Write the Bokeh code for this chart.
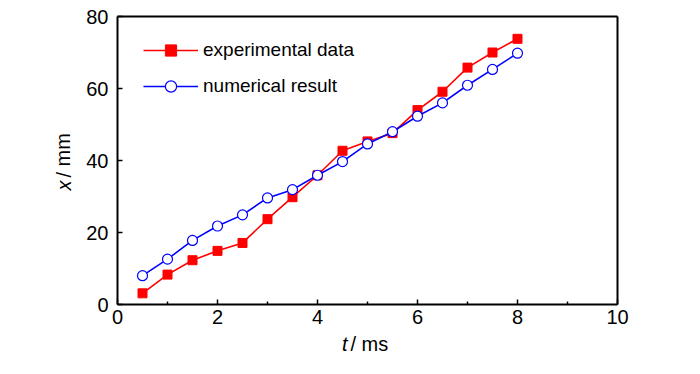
from bokeh.plotting import figure
from bokeh.models import Range1d, FixedTicker, Legend, LegendItem, Label, LinearAxis
from bokeh.embed import file_html
from bokeh.resources import INLINE

t = [0.5, 1.0, 1.5, 2.0, 2.5, 3.0, 3.5, 4.0, 4.5, 5.0, 5.5, 6.0, 6.5, 7.0, 7.5, 8.0]
experimental = [3.1, 8.3, 12.3, 14.9, 17.1, 23.7, 29.8, 35.9, 42.7, 45.3, 47.6, 54.0, 59.1, 65.8, 70.0, 73.8]
numerical = [8.0, 12.6, 17.8, 21.8, 24.9, 29.6, 31.9, 35.9, 39.7, 44.6, 48.0, 52.3, 56.0, 60.9, 65.3, 69.8]
x_ticks = [0, 2, 4, 6, 8, 10]
x_minor = [1, 3, 5, 7, 9]
y_ticks = [0, 20, 40, 60, 80]
x_lim = (0, 10)
y_lim = (0, 80)

FONT = "Liberation Sans"

# canvas that fits the 700x374 window with its 8px page margin
W, H = 684, 358
BOX_L, BOX_R, BOX_T, BOX_B = 117, 617, 16, 304
MID_Y = (BOX_T + BOX_B) / 2
sx = (BOX_R - BOX_L) / (x_lim[1] - x_lim[0])
sy = (BOX_B - BOX_T) / (y_lim[1] - y_lim[0])
x_range = Range1d(x_lim[0] - BOX_L / sx, x_lim[1] + (W - BOX_R) / sx)
y_range = Range1d(y_lim[0] - (H - BOX_B) / sy, y_lim[1] + BOX_T / sy)

p = figure(width=W, height=H, frame_width=W, frame_height=H, min_border=0,
           output_backend="svg", toolbar_location=None,
           x_range=x_range, y_range=y_range,
           x_axis_type=None, y_axis_type=None)
p.grid.visible = False
p.outline_line_color = None
p.background_fill_color = "white"
p.border_fill_color = "white"

def style(ax):
    ax.axis_line_width = 2
    ax.axis_line_color = "black"
    ax.major_tick_in = 5
    ax.major_tick_out = 0
    ax.major_tick_line_width = 1.5
    ax.minor_tick_in = 3
    ax.minor_tick_out = 0
    ax.minor_tick_line_width = 1.5
    ax.major_label_text_font = FONT
    ax.major_label_text_font_size = "20px"
    ax.major_label_text_color = "black"

xax = LinearAxis(fixed_location=y_lim[0], bounds=x_lim,
                 ticker=FixedTicker(ticks=x_ticks, minor_ticks=x_minor))
style(xax)
xax.major_label_standoff = 5
p.add_layout(xax, "below")

yax = LinearAxis(fixed_location=x_lim[0], bounds=y_lim,
                 ticker=FixedTicker(ticks=y_ticks, minor_ticks=[]))
style(yax)
yax.major_label_standoff = 9
p.add_layout(yax, "left")

for place, loc, bnd in (("above", y_lim[1], x_lim), ("right", x_lim[1], y_lim)):
    ax = LinearAxis(fixed_location=loc, bounds=bnd, ticker=FixedTicker(ticks=[], minor_ticks=[]))
    ax.axis_line_width = 2
    ax.axis_line_color = "black"
    ax.major_label_text_font_size = "0px"
    p.add_layout(ax, place)

r1l = p.line(t, experimental, line_color="#ff0000", line_width=1.6)
r1s = p.scatter(t, experimental, marker="square", size=9, fill_color="#ff0000", line_color="#ff0000")
r2l = p.line(t, numerical, line_color="#0000ff", line_width=1.6)
r2s = p.scatter(t, numerical, marker="circle", size=10, fill_color="white", line_color="#0000ff", line_width=1.2)

legend = Legend(items=[LegendItem(label="experimental data", renderers=[r1l, r1s]),
                       LegendItem(label="numerical result", renderers=[r2l, r2s])],
                location=(137, H - 30 - 76), margin=0, padding=6, spacing=8,
                glyph_width=55, glyph_height=28, label_height=28, label_standoff=5,
                label_text_font=FONT, label_text_font_size="19px",
                label_text_color="black",
                border_line_alpha=0, background_fill_alpha=0)
p.add_layout(legend)

common = dict(x_units="screen", y_units="screen", text_font=FONT, text_font_size="20px",
              text_color="black", text_baseline="alphabetic")
p.add_layout(Label(x=347, y=H - 343, text="t", text_font_style="italic", text_align="right", **common))
p.add_layout(Label(x=350, y=H - 343, text="/ ms", text_align="left", **common))
p.add_layout(Label(x=63, y=H - (MID_Y + 20), text="x", angle=1.5708, text_font_style="italic",
                   text_align="right", **common))
p.add_layout(Label(x=63, y=H - (MID_Y + 17), text="/ mm", angle=1.5708, text_align="left", **common))

open("out.html", "w").write(file_html(p, INLINE))
